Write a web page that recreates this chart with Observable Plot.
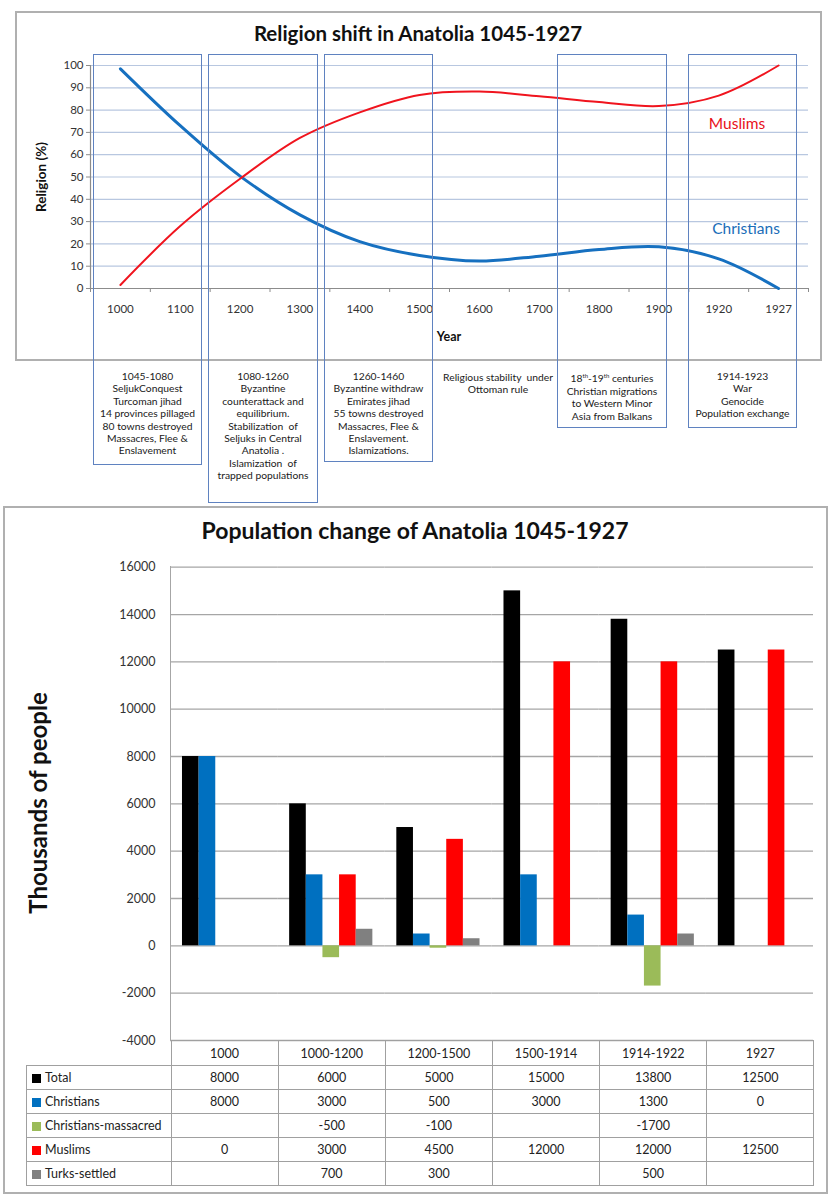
<!DOCTYPE html>
<html><head><meta charset="utf-8">
<script src="https://cdn.jsdelivr.net/npm/d3@7"></script>
<script src="https://cdn.jsdelivr.net/npm/@observablehq/plot@0.6"></script>
<style>
body{margin:0;background:#fff;font-family:Lato,"Open Sans",sans-serif;}
#page{position:relative;width:840px;height:1200px;overflow:hidden;background:#fff;}
.frame{position:absolute;border:2px solid #b0b0b0;box-sizing:border-box;}
.box{position:absolute;border:1px solid #5f82c0;box-sizing:border-box;overflow:hidden;text-align:center;}
.note{font-size:10.3px;line-height:12.4px;color:#1a1a1a;white-space:nowrap;}
.abs{position:absolute;}
.plotwrap{position:absolute;left:0;}
table.dt{position:absolute;border-collapse:collapse;font-size:12.5px;color:#222;}
table.dt td{border:1px solid #a0a0a0;text-align:center;padding:0;height:23px;}
table.dt td.lab{text-align:left;padding-left:5px;}
table.dt td.blank{border:none;}
.sw{display:inline-block;width:9px;height:9px;margin-right:4px;vertical-align:-0.5px;}
</style></head>
<body><div id="page"></div>
<script>
// ---------- Data: religion shift (%) ----------
const years = ["1000","1100","1200","1300","1400","1500","1600","1700","1800","1900","1920","1927"];
const christiansPct = [98.5, 73, 50.4, 33, 21, 14.8, 12.3, 14.5, 17.5, 18.7, 13.3, 0];
const muslimsPct    = [1.6, 28, 49.2, 67.5, 79, 86.8, 88.3, 86.2, 83.6, 81.8, 86.5, 100];

// ---------- Data: population change (thousands) ----------
const periods = ["1000","1000-1200","1200-1500","1500-1914","1914-1922","1927"];
const seriesNames  = ["Total","Christians","Christians-massacred","Muslims","Turks-settled"];
const seriesColors = ["#000000","#0070c0","#9bbb59","#ff0000","#808080"];
const total      = [8000, 6000, 5000, 15000, 13800, 12500];
const christians = [8000, 3000, 500, 3000, 1300, 0];
const massacred  = [null, -500, -100, null, -1700, null];
const muslims    = [0, 3000, 4500, 12000, 12000, 12500];
const turks      = [null, 700, 300, null, 500, null];
const popTicks   = [-4000,-2000,0,2000,4000,6000,8000,10000,12000,14000,16000];
const pctTicks   = [0,10,20,30,40,50,60,70,80,90,100];

const page = document.getElementById("page");
function el(tag, cls, css, html){const e=document.createElement(tag); if(cls) e.className=cls; if(css) e.style.cssText=css; if(html!=null) e.innerHTML=html; page.appendChild(e); return e;}

// frames
el("div","frame","left:15px;top:11px;width:807px;height:350px;");
el("div","frame","left:3px;top:506px;width:825px;height:688px;");

// ---------- Top chart ----------
const idx = years.map((_, i) => i);
const religionChart = Plot.plot({
  width: 840, height: 361,
  marginLeft: 90, marginRight: 32, marginTop: 65, marginBottom: 73,
  style: {fontFamily: "Lato, 'Open Sans', sans-serif", fontSize: "11.5px", color: "#333", background: "transparent", overflow: "visible"},
  x: {domain: [-0.5, years.length - 0.5], axis: null},
  y: {domain: [0, 100], axis: null},
  marks: [
    Plot.ruleY(pctTicks.slice(1), {stroke: "#b8c7e0", strokeWidth: 1.2}),
    Plot.ruleY([0], {stroke: "#8c8c8c", strokeWidth: 1.2}),
    Plot.ruleX([-0.5], {stroke: "#8c8c8c", strokeWidth: 1.2}),
    Plot.ruleX(d3.range(-0.5, years.length, 1), {y1: 0, y2: -1.8, stroke: "#8c8c8c", clip: false}),
    Plot.axisY(pctTicks, {tickSize: 4, tickPadding: 3, label: null, stroke: "#8c8c8c", fill: "#333"}),
    Plot.axisX(idx, {tickSize: 0, tickPadding: 16, tickFormat: i => years[i], label: null, fill: "#333"}),
    Plot.line(christiansPct, {x: (d, i) => i, y: d => d, curve: "catmull-rom", stroke: "#1670c0", strokeWidth: 3}),
    Plot.line(muslimsPct, {x: (d, i) => i, y: d => d, curve: "catmull-rom", stroke: "#f0141e", strokeWidth: 2})
  ]
});
const w1 = el("div","plotwrap","top:0;");
w1.appendChild(religionChart);

el("div","abs","left:0;width:836px;top:21px;text-align:center;font-weight:bold;font-size:20.5px;color:#111;","Religion shift in Anatolia 1045-1927");
el("div","abs","left:41px;top:177px;transform:translate(-50%,-50%) rotate(-90deg);font-weight:bold;font-size:13.5px;white-space:nowrap;color:#111;","Religion (%)");
el("div","abs","left:449px;top:336px;transform:translate(-50%,-50%);font-weight:bold;font-size:12.5px;color:#111;","Year");
el("div","abs","left:737px;top:123px;transform:translate(-50%,-50%);font-size:15.5px;color:#e8101a;","Muslims");
el("div","abs","left:746px;top:228px;transform:translate(-50%,-50%);font-size:15.5px;color:#1a6db8;","Christians");

// annotation boxes
const boxes = [
  {l:93, w:109, b:465, lines:["1045-1080","SeljukConquest","Turcoman jihad","14 provinces pillaged","80 towns destroyed","Massacres, Flee &amp;","Enslavement"]},
  {l:208, w:110, b:503, lines:["1080-1260","Byzantine","counterattack and","equilibrium.","Stabilization&nbsp; of","Seljuks in Central","Anatolia .","Islamization&nbsp; of","trapped populations"]},
  {l:324, w:109, b:462, lines:["1260-1460","Byzantine withdraw","Emirates jihad","55 towns destroyed","Massacres, Flee &amp;","Enslavement.","Islamizations."]},
  {l:557, w:110, b:428, lines:["18<sup style='font-size:6px'>th</sup>-19<sup style='font-size:6px'>th</sup> centuries","Christian migrations","to Western Minor","Asia from Balkans"]},
  {l:688, w:109, b:428, lines:["1914-1923","War","Genocide","Population exchange"]}
];
boxes.forEach(b => {
  el("div","box",`left:${b.l}px;top:54px;width:${b.w}px;height:${b.b-54}px;`,
     `<div class="note" style="padding-top:315px;">${b.lines.join("<br>")}</div>`);
});
el("div","abs note","left:498px;top:371px;transform:translateX(-50%);text-align:center;","Religious stability&nbsp; under<br>Ottoman rule");

// ---------- Bottom chart ----------
const seriesValues = [total, christians, massacred, muslims, turks];
const bars = periods.flatMap((p, i) => seriesNames.map((s, j) => ({period: p, series: s, value: seriesValues[j][i]})))
  .filter(d => d.value != null && d.value !== 0);

const popChart = Plot.plot({
  width: 840, height: 545,
  marginLeft: 170, marginRight: 27, marginTop: 66.7, marginBottom: 5,
  style: {fontFamily: "Lato, 'Open Sans', sans-serif", fontSize: "12.5px", color: "#333", background: "transparent", overflow: "visible"},
  fx: {domain: periods, padding: 0, round: false, axis: null, label: null},
  x: {domain: seriesNames, paddingInner: 0, paddingOuter: 0.72, round: false, axis: null},
  y: {domain: [-4000, 16000], axis: null},
  color: {domain: seriesNames, range: seriesColors},
  marks: [
    Plot.ruleY(popTicks, {stroke: "#a6a6a6", strokeWidth: 1.3}),
    Plot.axisY(popTicks, {tickSize: 0, tickPadding: 15, label: null, fill: "#333", tickFormat: d => String(d)}),
    Plot.barY(bars, {fx: "period", x: "series", y: "value", fill: "series", inset: 0})
  ]
});
const w2 = el("div","plotwrap","top:500px;");
w2.appendChild(popChart);
el("div","abs","left:170px;top:566px;width:1.3px;height:474px;background:#a6a6a6;");

el("div","abs","left:0;width:830px;top:516px;text-align:center;font-weight:bold;font-size:23px;color:#111;","Population change of Anatolia 1045-1927");
el("div","abs","left:37px;top:803px;transform:translate(-50%,-50%) rotate(-90deg);font-weight:bold;font-size:24px;white-space:nowrap;color:#111;","Thousands of people");

// table
const colW = (813 - 170) / periods.length;
let html = `<tr><td class="blank" style="width:144px;height:24px"></td>${periods.map(p => `<td style="width:${colW-1}px;height:24px">${p}</td>`).join("")}</tr>`;
seriesNames.forEach((s, j) => {
  html += `<tr><td class="lab"><span class="sw" style="background:${seriesColors[j]}"></span>${s}</td>` +
    seriesValues[j].map(v => `<td>${v == null ? "" : v}</td>`).join("") + `</tr>`;
});
const t = el("table","dt","left:26px;top:1040px;");
t.innerHTML = html;
</script>
</body></html>
